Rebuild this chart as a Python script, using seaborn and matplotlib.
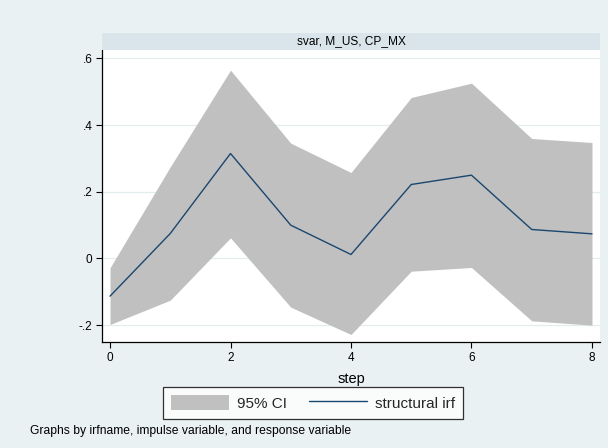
import numpy as np
import pandas as pd
import matplotlib
matplotlib.use("Agg")
import matplotlib.pyplot as plt
import seaborn as sns
from matplotlib.patches import Patch, Rectangle
from matplotlib.lines import Line2D

# data
steps = [0, 1, 2, 3, 4, 5, 6, 7, 8]
irf = [-0.113, 0.075, 0.315, 0.100, 0.012, 0.222, 0.250, 0.087, 0.074]
ci_lower = [-0.198, -0.125, 0.062, -0.146, -0.228, -0.038, -0.027, -0.187, -0.200]
ci_upper = [-0.028, 0.275, 0.565, 0.346, 0.258, 0.483, 0.526, 0.360, 0.348]
y_ticks = [-0.2, 0, 0.2, 0.4, 0.6]
y_tick_labels = ["-.2", "0", ".2", ".4", ".6"]
x_ticks = [0, 2, 4, 6, 8]
panel_title = "svar, M_US, CP_MX"
x_label = "step"
legend_labels = ["95% CI", "structural irf"]
note = "Graphs by irfname, impulse variable, and response variable"

df = pd.DataFrame({"step": steps, "irf": irf, "lo": ci_lower, "hi": ci_upper})

sns.set_theme(style="white")
plt.rcParams["font.family"] = ["Liberation Sans", "DejaVu Sans"]

BG = "#EAF1F3"
STRIP = "#D9E5EA"
GRID = "#E3ECEF"
LINE = "#1A476F"
FILL = "#C0C0C0"

W, H = 608, 448
fig = plt.figure(figsize=(W / 100, H / 100), dpi=100)
fig.patch.set_facecolor(BG)

left, right, top, bottom = 102, 600, 50, 342
ax = fig.add_axes([left / W, 1 - bottom / H, (right - left) / W, (bottom - top) / H])
ax.set_facecolor("white")

ax.fill_between(df["step"], df["lo"], df["hi"], color=FILL, linewidth=0, zorder=2)
sns.lineplot(data=df, x="step", y="irf", ax=ax, color=LINE, linewidth=1.0, zorder=3)

ax.set_xlim(-0.133, 8.133)
ax.set_ylim(-0.2505, 0.6255)
ax.set_yticks(y_ticks)
ax.set_yticklabels(y_tick_labels)
ax.set_xticks(x_ticks)
ax.set_xticklabels([str(t) for t in x_ticks])
for y in y_ticks:
    ax.axhline(y, color=GRID, linewidth=0.9, zorder=1)

for s in ["top", "right"]:
    ax.spines[s].set_visible(False)
for s in ["left", "bottom"]:
    ax.spines[s].set_color("black")
    ax.spines[s].set_linewidth(0.9)
ax.tick_params(axis="both", direction="out", length=4, width=0.8, color="black",
               labelsize=8.5, labelcolor="black", pad=3, left=True, bottom=True)
ax.set_xlabel(x_label, fontsize=10.5, color="black", labelpad=6)
ax.set_ylabel("")

# strip title
strip = Rectangle((left / W, 1 - top / H), (right - left) / W, 17 / H,
                  transform=fig.transFigure, facecolor=STRIP, edgecolor="none")
fig.patches.append(strip)
fig.text((left + right) / 2 / W, 1 - 41.5 / H, panel_title, ha="center", va="center",
         fontsize=8.6, color="black")

handles = [Patch(facecolor=FILL, edgecolor="none"),
           Line2D([0], [0], color=LINE, linewidth=1.0)]
leg = fig.legend(handles, legend_labels, ncol=2, loc="center",
                 bbox_to_anchor=(313 / W, 1 - 403 / H), frameon=True, fancybox=False,
                 fontsize=11, handlelength=3.8, handleheight=1.1, columnspacing=1.4,
                 handletextpad=0.52, borderpad=0.55)
leg.get_frame().set_edgecolor("black")
leg.get_frame().set_linewidth(0.9)
leg.get_frame().set_facecolor("white")

fig.text(30 / W, 1 - 431 / H, note, ha="left", va="center", fontsize=8.7, color="black")

fig.savefig("out.png", dpi=100, facecolor=BG)
